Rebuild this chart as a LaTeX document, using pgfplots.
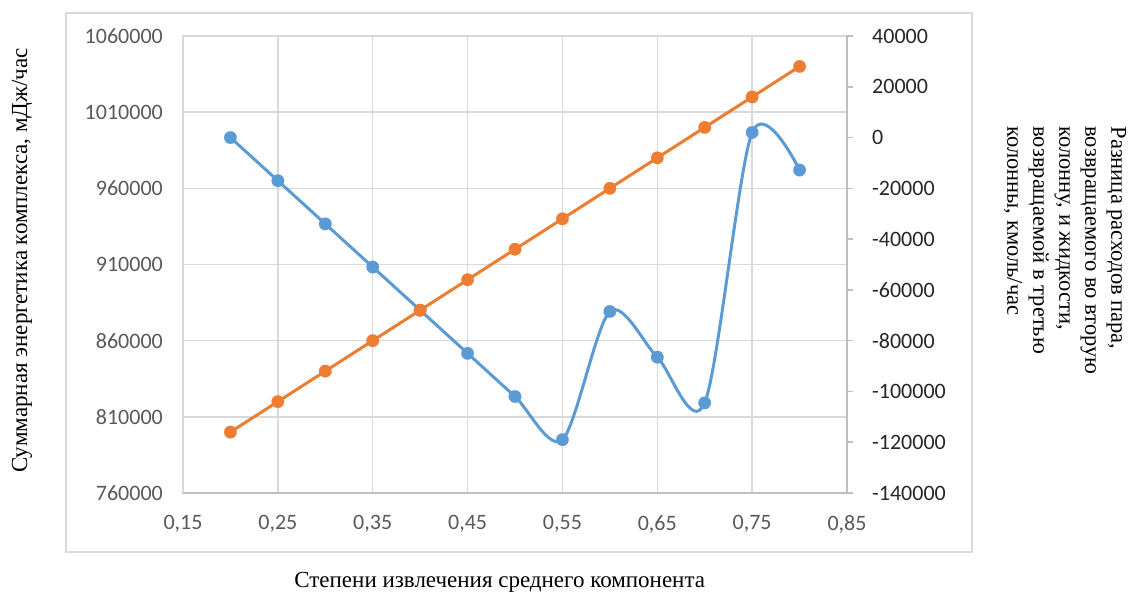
\documentclass[border=0pt]{standalone}
\usepackage{pgfplots}
\pgfplotsset{compat=1.18}
\usepackage{fontspec}
\setmainfont{Liberation Serif}
\newfontfamily\calibri{Carlito}
\definecolor{blueS}{HTML}{5B9BD5}
\definecolor{orangeS}{HTML}{ED7D31}
\definecolor{gridg}{HTML}{D9D9D9}
\definecolor{axisg}{HTML}{BFBFBF}
\definecolor{tickg}{HTML}{595959}
\definecolor{tickr}{HTML}{262626}
\begin{document}
\begin{tikzpicture}[x=1pt,y=1pt]
\path[use as bounding box] (0,0) rectangle (1128,592);
\draw[gridg, line width=1.5pt] (66,40) rectangle (972,579);
\pgfplotsset{
  common/.style={
    at={(183pt,99pt)}, anchor=south west,
    width=664pt, height=457pt, scale only axis,
    xmin=0.15, xmax=0.85, scaled ticks=false,
  }
}
% left axis, x axis, grid
\begin{axis}[common,
  ymin=760000, ymax=1060000,
  xtick={0.15,0.25,0.35,0.45,0.55,0.65,0.75,0.85},
  xticklabels={{0,15},{0,25},{0,35},{0,45},{0,55},{0,65},{0,75},{0,85}},
  ytick={760000,810000,860000,910000,960000,1010000,1060000},
  yticklabels={760000,810000,860000,910000,960000,1010000,1060000},
  grid=major,
  major grid style={draw=gridg, line width=1.5pt},
  axis line style={draw=gridg, line width=1.5pt},
  major tick length=0pt,
  tick style={draw=none},
  tick label style={font=\calibri\fontsize{22}{25}\selectfont, color=tickg, inner sep=0pt},
  yticklabel style={anchor=east, xshift=-20pt},
  xticklabel style={anchor=north, yshift=-22pt},
  every axis x label/.style={at={(axis description cs:0.477,-0.1947)}, anchor=center},
  every axis y label/.style={at={(axis description cs:-0.2425,0.5088)}, anchor=center, rotate=90},
  label style={font=\fontsize{23}{26}\selectfont},
  xlabel={Степени извлечения среднего компонента},
  ylabel={Суммарная энергетика комплекса, мДж/час},
]
\draw[axisg, line width=1.5pt] (rel axis cs:0,0) -- (rel axis cs:1,0);
\end{axis}
% right axis with blue series
\begin{axis}[common,
  ymin=-140000, ymax=40000,
  axis y line*=right, axis x line=none,
  ytick={-140000,-120000,-100000,-80000,-60000,-40000,-20000,0,20000,40000},
  yticklabels={-140000,-120000,-100000,-80000,-60000,-40000,-20000,0,20000,40000},
  tick align=outside, major tick length=6pt,
  axis line style={draw=axisg, line width=1.5pt},
  tick style={draw=axisg, line width=1.5pt},
  tick label style={font=\calibri\fontsize{22}{25}\selectfont, color=tickr, inner sep=0pt},
  yticklabel style={anchor=west, xshift=19pt},
  every axis y label/.style={at={(axis description cs:1.3283,0.5306)}, anchor=center, rotate=-90},
  ylabel style={align=left, font=\fontsize{22.5}{26}\selectfont},
  ylabel={Разница расходов пара,\\возвращаемого во вторую\\колонну, и жидкости,\\возвращаемой в третью\\колонны, кмоль/час},
]
\addplot[blueS, line width=3pt, smooth, tension=0.5, mark=*, mark size=6.3pt,
  mark options={fill=blueS, draw=blueS, line width=0.1pt}] coordinates {
(0.20,0) (0.25,-17000) (0.30,-34000) (0.35,-51000) (0.40,-68000)
(0.45,-85000) (0.50,-102000) (0.55,-119000) (0.60,-68500) (0.65,-86500)
(0.70,-104500) (0.75,2000) (0.80,-12800)
};
\end{axis}
% orange series on left scale, drawn on top
\begin{axis}[common, hide axis,
  ymin=760000, ymax=1060000,
]
\addplot[orangeS, line width=3pt, mark=*, mark size=6.3pt,
  mark options={fill=orangeS, draw=orangeS, line width=0.1pt}] coordinates {
(0.20,800000) (0.25,820000) (0.30,840000) (0.35,860000) (0.40,880000)
(0.45,900000) (0.50,920000) (0.55,940000) (0.60,960000) (0.65,980000)
(0.70,1000000) (0.75,1020000) (0.80,1040000)
};
\end{axis}
\end{tikzpicture}
\end{document}
